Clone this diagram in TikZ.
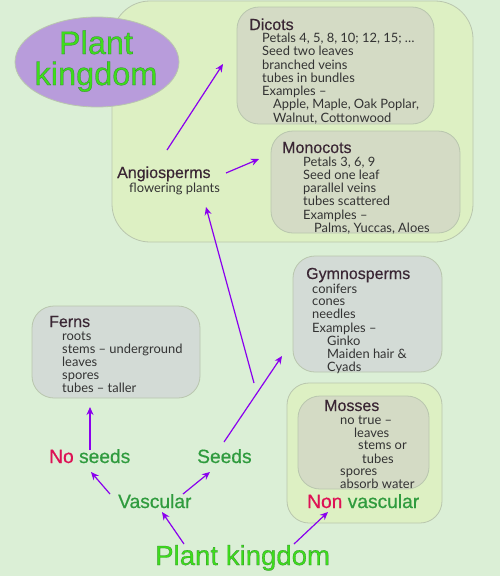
\documentclass[tikz,border=0pt]{standalone}
\usepackage{fontspec}
\setmainfont{Liberation Sans}
\newfontfamily\itmfont{Lato}
\newfontfamily\ttlfont[FakeBold=0.35]{Liberation Sans}
\newfontfamily\lblfont[FakeBold=0.6]{Liberation Sans}
\usetikzlibrary{arrows.meta,shapes.geometric}
\definecolor{bg}{HTML}{DBEFD6}
\definecolor{contfill}{HTML}{DDF0C3}
\definecolor{boxfill}{HTML}{D4DBC5}
\definecolor{greybox}{HTML}{D3DBD6}
\definecolor{edge}{HTML}{B9C6AE}
\definecolor{ttlcol}{HTML}{3A2634}
\definecolor{itmcol}{HTML}{333333}
\definecolor{arr}{HTML}{8A00EE}
\definecolor{lblgreen}{HTML}{2F9B3E}
\definecolor{lblred}{HTML}{DD1155}
\definecolor{brightgreen}{HTML}{3EDD1C}
\definecolor{ellfill}{HTML}{B89CDB}
\newcommand\lst[1]{\begin{tabular}[t]{@{}l@{}}#1\end{tabular}}
\newcommand\ind[1]{\hspace*{#1pt}}
\newcommand\grstroke{\special{pdf:literal direct 0.18 0.45 0.2 RG}}
\begin{document}
\begin{tikzpicture}[x=1pt,y=-1pt,
  ttl/.style={anchor=base west,inner sep=0pt,text=ttlcol,font=\ttlfont\fontsize{16}{18}\selectfont},
  itm/.style={anchor=base west,inner sep=0pt,text=itmcol,font=\itmfont\fontsize{12.9}{12.5}\selectfont},
  lbl/.style={anchor=base west,inner sep=0pt,text=lblgreen,font=\lblfont\fontsize{19.2}{22}\selectfont},
  big/.style={inner sep=0pt,text=brightgreen,font=\lblfont\fontsize{32.5}{25}\selectfont},
  rbox/.style={draw=edge,line width=0.8pt,rounded corners=22pt},
  conn/.style={draw=arr,line width=1.2pt,-{Stealth[length=8pt,width=7pt]}}]
\fill[bg] (0,0) rectangle (500,576);
\useasboundingbox (0,0) rectangle (500,576);

% containers
\draw[rbox,fill=contfill,rounded corners=38pt] (112,1) rectangle (473,242);
\draw[rbox,fill=boxfill] (237,7) rectangle (434,124);
\draw[rbox,fill=boxfill] (271,131) rectangle (460,233);
\draw[rbox,fill=greybox] (293,256) rectangle (442,372);
\draw[rbox,fill=contfill] (287,383) rectangle (442,523);
\draw[rbox,fill=boxfill] (298,396) rectangle (429,489);
\draw[rbox,fill=greybox] (32,306) rectangle (200,398);

% ellipse
\node[ellipse,draw=edge,line width=0.8pt,fill=ellfill,minimum width=164pt,minimum height=90pt,inner sep=0pt] (ell) at (97,62) {};
\node[big,anchor=base] (elltxt) at (96,54) {\grstroke\begin{tabular}[t]{@{}c@{}}Plant\\kingdom\end{tabular}};

% Dicots
\node[ttl] (dic) at (249,30) {Dicots};
\node[itm] (dicI) at (262,42.5) {\lst{Petals 4, 5, 8, 10; 12, 15; \ldots\\Seed two leaves\\branched veins\\tubes in bundles\\Examples –\\\ind{11}Apple, Maple, Oak Poplar,\\\ind{11}Walnut, Cottonwood}};

% Monocots
\node[ttl] (mon) at (282,153) {Monocots};
\node[itm] (monI) at (303,166) {\lst{Petals 3, 6, 9\\Seed one leaf\\parallel veins\\tubes scattered\\Examples –\\\ind{11}Palms, Yuccas, Aloes}};

% Angiosperms
\node[ttl] (ang) at (117,178) {Angiosperms};
\node[itm] (angI) at (129,192) {flowering plants};

% Gymnosperms
\node[ttl] (gym) at (306,279) {Gymnosperms};
\node[itm] (gymI) at (312,293) {\lst{conifers\\cones\\needles\\Examples –\\\ind{15}Ginko\\\ind{15}Maiden hair \&\\\ind{15}Cyads}};

% Ferns
\node[ttl] (fer) at (49,327) {Ferns};
\node[itm] (ferI) at (62,340) {\lst{roots\\stems – underground\\leaves\\spores\\tubes – taller}};

% Mosses
\node[ttl] (mos) at (324,411) {Mosses};
\node[itm] (mosI) at (340,424) {\lst{no true –\\\ind{14}leaves\\\ind{18}stems or\\\ind{22}tubes\\spores\\absorb water}};

% labels
\node[lbl] (nonv) at (307,508) {\textcolor{lblred}{Non} vascular};
\node[lbl] (vasc) at (118,508) {Vascular};
\node[lbl] (nos) at (49,463) {\textcolor{lblred}{No} seeds};
\node[lbl] (seeds) at (197,463) {Seeds};
\node[anchor=base west,inner sep=0pt,text=brightgreen,font=\lblfont\fontsize{27.6}{30}\selectfont] (pk) at (155,565) {\grstroke Plant kingdom};

% connector ends
\coordinate (a1s) at (167,150); \coordinate (a1e) at (223,64);
\coordinate (a2s) at (226,173); \coordinate (a2e) at (259,159);
\coordinate (a3s) at (254,383); \coordinate (a3e) at (206,207);
\coordinate (a4s) at (224,442); \coordinate (a4e) at (282,356);
\coordinate (a5s) at (90,450);  \coordinate (a5e) at (90,407);
\coordinate (a6s) at (110,494); \coordinate (a6e) at (91,472);
\coordinate (a7s) at (183,494); \coordinate (a7e) at (210,472);
\coordinate (a8s) at (184,544); \coordinate (a8e) at (162,512);
\coordinate (a9s) at (294,544); \coordinate (a9e) at (328,512);
\foreach \i in {1,...,9} \draw[conn] (a\i s) -- (a\i e);
\end{tikzpicture}
\end{document}
